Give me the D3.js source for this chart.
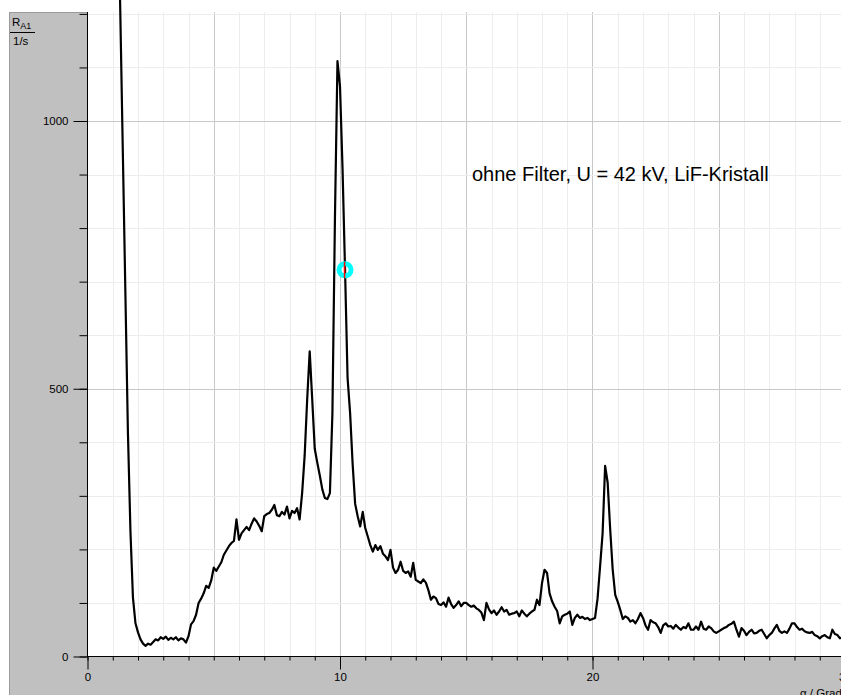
<!DOCTYPE html>
<html>
<head>
<meta charset="utf-8">
<script src="https://cdn.jsdelivr.net/npm/d3@7"></script>
<style>
  html, body { margin: 0; padding: 0; background: #fff; overflow: hidden; }
  svg { display: block; font-family: "Liberation Sans", Arial, sans-serif; }
</style>
</head>
<body>
<div id="chart"></div>
<script>
// count rate R_A1 (1/s) against crystal angle, sampled every 0.1 degree from 1.2
const angleStart = 1.2, angleStep = 0.1;
const rates = [
  1460, 1200, 940, 680, 420, 235, 110, 62,
  45, 32, 24, 20, 24, 22, 27, 32, 30, 36,
  33, 37, 31, 35, 32, 36, 30, 34, 32, 26,
  38, 60, 66, 78, 100, 108, 118, 132, 128, 142,
  166, 160, 168, 176, 190, 198, 206, 212, 216, 256,
  218, 230, 236, 242, 236, 248, 258, 252, 244, 234,
  262, 266, 268, 274, 283, 264, 262, 270, 265, 280,
  258, 272, 268, 277, 256, 305, 375, 480, 570, 480,
  388, 362, 338, 312, 296, 294, 305, 455, 820, 1112,
  1065, 912, 722, 520, 455, 360, 285, 262, 243, 270,
  240, 224, 208, 196, 208, 199, 206, 192, 187, 180,
  199, 166, 156, 162, 177, 160, 156, 159, 149, 175,
  143, 140, 137, 144, 138, 124, 106, 112, 109, 98,
  96, 101, 93, 110, 98, 91, 96, 103, 94, 100,
  100, 96, 93, 95, 90, 87, 82, 68, 100, 88,
  81, 86, 78, 84, 92, 84, 87, 78, 80, 81,
  84, 75, 86, 80, 75, 80, 84, 87, 106, 96,
  137, 162, 156, 118, 103, 93, 85, 62, 75, 78,
  80, 84, 59, 72, 78, 72, 74, 70, 72, 68,
  70, 72, 108, 168, 230, 356, 325, 238, 162, 115,
  102, 87, 70, 75, 72, 65, 68, 62, 70, 81,
  72, 58, 50, 68, 64, 62, 55, 44, 58, 62,
  56, 57, 52, 59, 54, 50, 55, 53, 62, 50,
  50, 56, 50, 65, 52, 50, 56, 53, 47, 44,
  47, 50, 53, 55, 59, 61, 65, 50, 37, 53,
  48, 40, 46, 50, 43, 44, 48, 50, 42, 34,
  40, 44, 52, 59, 48, 44, 47, 44, 52, 62,
  62, 55, 50, 52, 47, 45, 44, 46, 40, 38,
  34, 38, 40, 36, 34, 50, 42, 40, 34, 36
];

const xMajorTicks = [0, 10, 20, 30];
const yMajorTicks = [0, 500, 1000];
const cursor = { angle: 10.2, rate: 722 };
const note = "ohne Filter, U = 42 kV, LiF-Kristall";

const data = rates.map((r, i) => ({ a: +(angleStart + i * angleStep).toFixed(1), r: r }));

const width = 841, height = 695;
const plotLeft = 87.5, plotBottom = 656.5, plotTop = 12;

const x = d3.scaleLinear().domain([0, 30]).range([plotLeft, 845]);
const y = d3.scaleLinear().domain([0, 1200]).range([plotBottom, 13.9]);

const svg = d3.select("#chart").append("svg")
  .attr("width", width)
  .attr("height", height);

// grey frame round the plot
svg.append("rect").attr("x", 9).attr("y", plotTop).attr("width", plotLeft - 9).attr("height", height - plotTop).attr("fill", "#c0c0c0");
svg.append("rect").attr("x", 9).attr("y", plotBottom).attr("width", width - 9).attr("height", height - plotBottom).attr("fill", "#c0c0c0");
svg.append("line").attr("x1", 9.5).attr("x2", 9.5).attr("y1", plotTop).attr("y2", height).attr("stroke", "#9a9a9a");
svg.append("line").attr("x1", 9).attr("x2", plotLeft).attr("y1", plotTop + 0.5).attr("y2", plotTop + 0.5).attr("stroke", "#9a9a9a");

// grid
const grid = svg.append("g");
d3.range(1, 30).forEach(v => {
  grid.append("line")
    .attr("x1", Math.round(x(v)) + 0.5).attr("x2", Math.round(x(v)) + 0.5)
    .attr("y1", plotTop).attr("y2", plotBottom)
    .attr("stroke", v % 5 === 0 ? "#c8c8c8" : "#ededed");
});
d3.range(100, 1300, 100).forEach(v => {
  grid.append("line")
    .attr("x1", plotLeft).attr("x2", width)
    .attr("y1", Math.round(y(v)) + 0.5).attr("y2", Math.round(y(v)) + 0.5)
    .attr("stroke", v % 500 === 0 ? "#c8c8c8" : "#ededed");
});

// curve
svg.append("clipPath").attr("id", "plot")
  .append("rect").attr("x", plotLeft).attr("y", 0).attr("width", width - plotLeft).attr("height", plotBottom);

const line = d3.line().x(d => x(d.a)).y(d => y(d.r));
svg.append("path")
  .datum(data)
  .attr("clip-path", "url(#plot)")
  .attr("fill", "none")
  .attr("stroke", "#000")
  .attr("stroke-width", 2.2)
  .attr("stroke-linejoin", "round")
  .attr("d", line);

// cursor marker
svg.append("circle")
  .attr("cx", x(cursor.angle)).attr("cy", y(cursor.rate)).attr("r", 6)
  .attr("fill", "none").attr("stroke", "#00ffff").attr("stroke-width", 5);
svg.append("line")
  .attr("x1", x(cursor.angle) - 0.5).attr("x2", x(cursor.angle) - 0.5)
  .attr("y1", y(cursor.rate) - 8).attr("y2", y(cursor.rate) + 8)
  .attr("stroke", "#ff0000").attr("stroke-width", 1.5);

// axes
const fmt = d3.format("d");
const yMinor = d3.axisLeft(y).tickValues(d3.range(0, 1300, 100)).tickSize(8).tickSizeOuter(0).tickFormat("");
const yMajor = d3.axisLeft(y).tickValues(yMajorTicks).tickSize(14).tickSizeOuter(0).tickPadding(5).tickFormat(fmt);
const xMinor = d3.axisBottom(x).tickValues(d3.range(0, 31, 1)).tickSize(4).tickSizeOuter(0).tickFormat("");
const xMajor = d3.axisBottom(x).tickValues(xMajorTicks).tickSize(13).tickSizeOuter(0).tickPadding(3).tickFormat(fmt);

[yMinor, yMajor].forEach(ax => {
  svg.append("g").attr("transform", `translate(${plotLeft},0)`).call(ax)
    .call(g => g.select(".domain").remove());
});
[xMinor, xMajor].forEach(ax => {
  svg.append("g").attr("transform", `translate(0,${plotBottom})`).call(ax)
    .call(g => g.select(".domain").remove());
});
svg.selectAll(".tick text").attr("font-size", 11.5).attr("font-family", "Liberation Sans, Arial, sans-serif").attr("fill", "#000");
svg.selectAll(".tick line").attr("stroke", "#000");

svg.append("line").attr("x1", plotLeft).attr("x2", plotLeft).attr("y1", plotTop).attr("y2", plotBottom + 0.5).attr("stroke", "#000");
svg.append("line").attr("x1", plotLeft).attr("x2", width).attr("y1", plotBottom).attr("y2", plotBottom).attr("stroke", "#000");

// axis titles
const yt = svg.append("text").attr("x", 12).attr("y", 26).attr("font-size", 11.5);
yt.append("tspan").text("R");
yt.append("tspan").attr("font-size", 9).attr("dy", 3).text("A1");
svg.append("line").attr("x1", 10).attr("x2", 35).attr("y1", 32.5).attr("y2", 32.5).attr("stroke", "#000");
svg.append("text").attr("x", 13).attr("y", 45).attr("font-size", 11.5).text("1/s");

svg.append("text").attr("x", 800).attr("y", 697).attr("font-size", 11.5).text("α / Grad");

// annotation
svg.append("text")
  .attr("x", 472).attr("y", 181)
  .attr("font-size", 20)
  .text(note);
</script>
</body>
</html>
